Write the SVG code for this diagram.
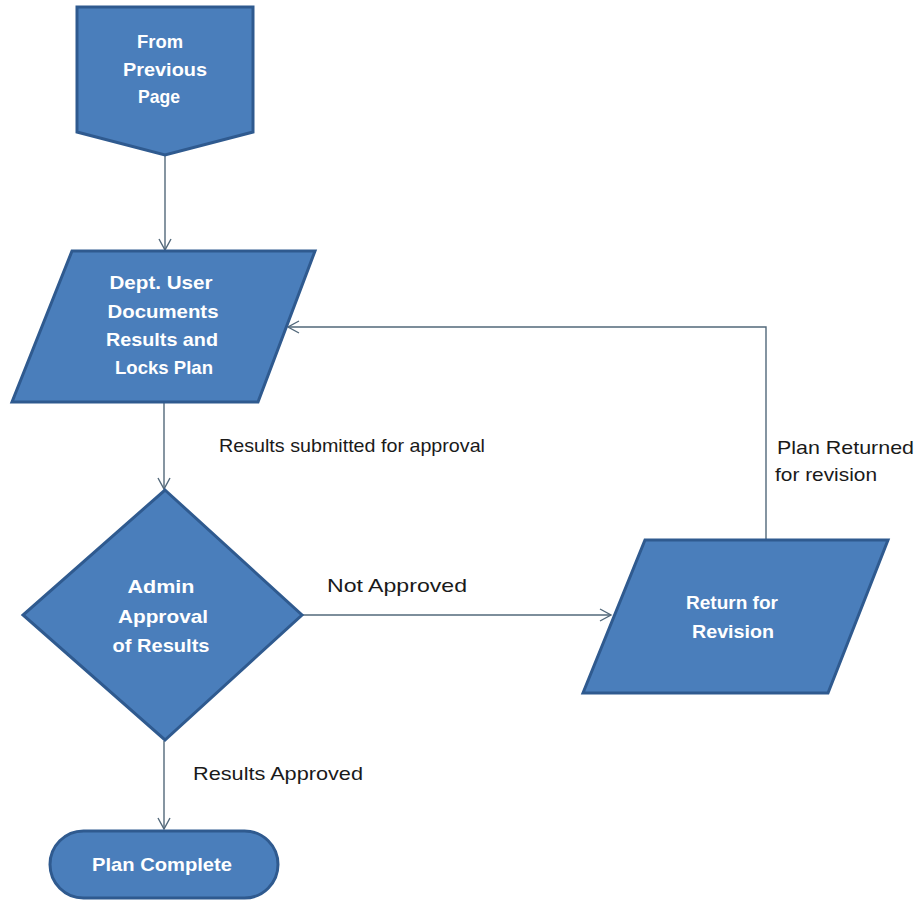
<svg xmlns="http://www.w3.org/2000/svg" width="924" height="901" viewBox="0 0 924 901">
<style>
.shape{fill:#4a7ebb;stroke:#2f5a8f;stroke-width:3;stroke-linejoin:miter}
.nt{font-family:"Liberation Sans",Arial,sans-serif;font-weight:bold;font-size:18.5px;fill:#ffffff;text-anchor:middle}
.lbl{font-family:"Liberation Sans",Arial,sans-serif;font-size:19px;fill:#1a1a1a}
.conn{fill:none;stroke:#52687a;stroke-width:1.4}
</style>
<defs>
<marker id="arr" markerUnits="userSpaceOnUse" markerWidth="14" markerHeight="14" refX="12" refY="7" orient="auto">
<path d="M1,1 L12,7 L1,13" fill="none" stroke="#52687a" stroke-width="1.4"/>
</marker>
</defs>
<rect width="924" height="901" fill="#ffffff"/>
<g id="connectors">
<line class="conn" x1="165" y1="155" x2="165" y2="250" marker-end="url(#arr)"/>
<line class="conn" x1="164" y1="403" x2="164" y2="489" marker-end="url(#arr)"/>
<line class="conn" x1="302" y1="615" x2="611" y2="615" marker-end="url(#arr)"/>
<polyline class="conn" points="766,540 766,327 288,327" marker-end="url(#arr)"/>
<line class="conn" x1="164" y1="741" x2="164" y2="829" marker-end="url(#arr)"/>
</g>
<g id="label-submitted"><text class="lbl" x="219" y="452" textLength="266" lengthAdjust="spacingAndGlyphs">Results submitted for  approval</text></g>
<g id="label-returned"><text class="lbl" x="777" y="454" textLength="137" lengthAdjust="spacingAndGlyphs">Plan Returned</text><text class="lbl" x="775" y="481" textLength="102" lengthAdjust="spacingAndGlyphs">for revision</text></g>
<g id="label-notapproved"><text class="lbl" x="327" y="592" textLength="140" lengthAdjust="spacingAndGlyphs">Not Approved</text></g>
<g id="label-approved"><text class="lbl" x="193" y="780" textLength="170" lengthAdjust="spacingAndGlyphs">Results Approved</text></g>
<g id="node-from">
<polygon class="shape" points="77,7 253,7 253,132 165,155 77,132"/>
<text class="nt" x="160" y="48" textLength="46" lengthAdjust="spacingAndGlyphs">From</text>
<text class="nt" x="165" y="76" textLength="84" lengthAdjust="spacingAndGlyphs">Previous</text>
<text class="nt" x="159" y="103" textLength="42" lengthAdjust="spacingAndGlyphs">Page</text>
</g>
<g id="node-dept">
<polygon class="shape" points="72,251 315,251 258,402 12,402"/>
<text class="nt" x="161" y="289" textLength="103" lengthAdjust="spacingAndGlyphs">Dept. User</text>
<text class="nt" x="163" y="318" textLength="111" lengthAdjust="spacingAndGlyphs">Documents</text>
<text class="nt" x="162" y="346" textLength="112" lengthAdjust="spacingAndGlyphs">Results and</text>
<text class="nt" x="164" y="374" textLength="98" lengthAdjust="spacingAndGlyphs">Locks Plan</text>
</g>
<g id="node-admin">
<polygon class="shape" points="165,490 302,615 165,740 23,615"/>
<text class="nt" x="161" y="593" textLength="67" lengthAdjust="spacingAndGlyphs">Admin</text>
<text class="nt" x="163" y="623" textLength="90" lengthAdjust="spacingAndGlyphs">Approval</text>
<text class="nt" x="161" y="652" textLength="97" lengthAdjust="spacingAndGlyphs">of Results</text>
</g>
<g id="node-return">
<polygon class="shape" points="645,540 888,540 828,693 583,693"/>
<text class="nt" x="732" y="609" textLength="92" lengthAdjust="spacingAndGlyphs">Return for</text>
<text class="nt" x="733" y="638" textLength="82" lengthAdjust="spacingAndGlyphs">Revision</text>
</g>
<g id="node-complete">
<rect class="shape" x="50" y="831" width="228" height="67" rx="33.5" ry="33.5"/>
<text class="nt" x="162" y="871" textLength="140" lengthAdjust="spacingAndGlyphs">Plan Complete</text>
</g>
</svg>
